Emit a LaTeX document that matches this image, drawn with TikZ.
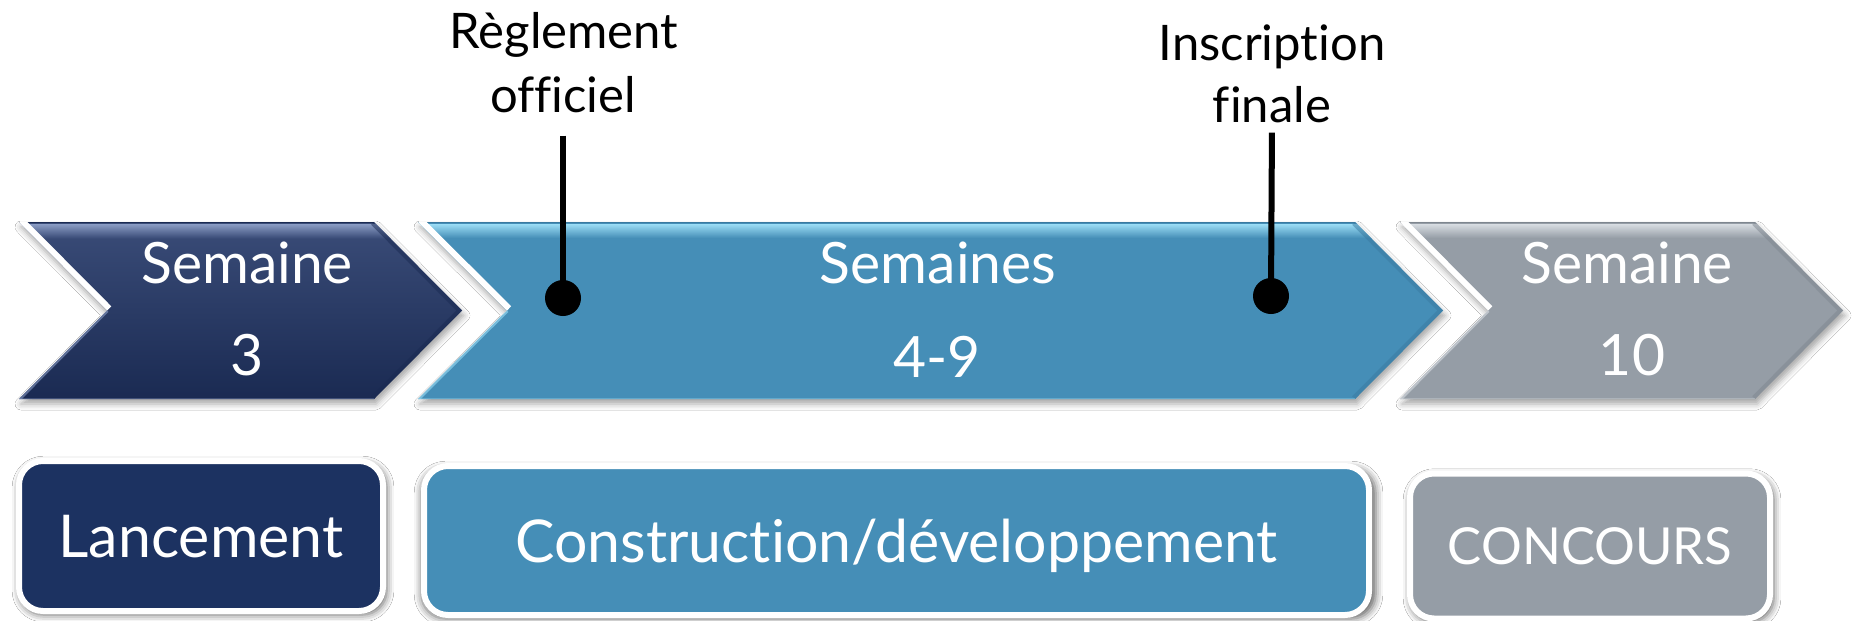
\documentclass[tikz,border=0pt]{standalone}
\usepackage{fontspec}
\setmainfont{Lato}[Ligatures=NoCommon]
\usetikzlibrary{shadows.blur}
\definecolor{navyT}{HTML}{3A4C78}
\definecolor{navyB}{HTML}{1A2A52}
\definecolor{navyHi}{HTML}{8A9CC4}
\definecolor{navy}{HTML}{1C3261}
\definecolor{steel}{HTML}{458EB7}
\definecolor{steelHi}{HTML}{9BDDF5}
\definecolor{steelDk}{HTML}{3A7AA0}
\definecolor{greyc}{HTML}{959DA6}
\definecolor{greyHi}{HTML}{D8DDE2}
\definecolor{greyDk}{HTML}{7E868F}
\newcommand{\mychevron}[8]{%
  % #1 x0, #2 xr, #3 xt, #4 notch, #5 top colour, #6 bottom colour, #7 highlight, #8 dark edge
  \path[chevshadow, top color=#5, bottom color=#6]
    (#1,222) -- (#2,222) -- (#3,310.5) -- (#2,399) -- (#1,399) -- (#4,310.5) -- cycle;
  \begin{scope}
    \clip (#1,222) -- (#2,222) -- (#3,310.5) -- (#2,399) -- (#1,399) -- (#4,310.5) -- cycle;
    \shade[top color=#7, bottom color=#5] (#1,224) rectangle (#3,238);
    \draw[#8, line width=2pt] (#1,222) -- (#2,222);
    \draw[white, line width=12pt] (#1,222) -- (#4,310.5);
    \draw[#7, line width=4pt, opacity=.6] (#4,310.5) -- (#1,399);
    \draw[#8, line width=8pt, opacity=.5] (#2,222) -- (#3,310.5) -- (#2,399);
    \draw[#7, line width=3pt, opacity=.35] (#1,399) -- (#2,399);
  \end{scope}}
\begin{document}
\begin{tikzpicture}[x=1pt,y=-1pt,
  chevshadow/.style={blur shadow={shadow xshift=2pt, shadow yshift=-5pt, shadow blur radius=6pt, shadow opacity=35}},
  chevtxt/.style={anchor=base, inner sep=0pt, text=white, font=\fontsize{57}{60}\selectfont},
  lbl/.style={anchor=base, inner sep=0pt, text=black, font=\fontsize{49}{60}\selectfont},
  stem/.style={draw=black, line width=6pt},
  dot/.style={circle, fill=black, minimum size=36pt, inner sep=0pt},
  phase/.style={draw=white, line width=6pt, rounded corners=24pt, text=white,
    inner sep=0pt, text height=43pt, text depth=0pt, font=\fontsize{59}{62}\selectfont,
    blur shadow={shadow xshift=2pt, shadow yshift=-3pt, shadow blur radius=7pt, shadow scale=1.01, shadow opacity=60}}]
\path[use as bounding box, fill=white] (0,0) rectangle (1858,621);

% chevrons
\mychevron{19}{374}{462}{107}{navyT}{navyB}{navyHi}{navyB}
\mychevron{418}{1355}{1443}{507}{steel}{steel}{steelHi}{steelDk}
\mychevron{1400}{1755}{1843}{1488}{greyc}{greyc}{greyHi}{greyDk}

% chevron texts
\node[chevtxt] (w3a) at (247,283) {Semaine};
\node[chevtxt] (w3b) at (247,375) {3};
\node[chevtxt] (w4a) at (938,283) {Semaines};
\node[chevtxt] (w4b) at (937,377) {4-9};
\node[chevtxt] (w10a) at (1627,283) {Semaine};
\node[chevtxt] (w10b) at (1632,375) {10};

% milestone labels
\node[lbl] (reg1) at (564,48) {Règlement};
\node[lbl] (reg2) at (563,112) {officiel};
\node[lbl] (ins1) at (1272,60) {Inscription};
\node[lbl] (ins2) at (1272,122) {finale};

% milestones
\node[dot] (d1) at (563,298) {};
\node[dot] (d2) at (1271,296) {};
\draw[stem, shorten <=23pt] (reg2.south) -- (d1.center);
\draw[stem, shorten <=10pt] (ins2.south) -- (d2.center);

% phase boxes
\node[phase, fill=navy, minimum width=364pt, minimum height=150pt] (lanc) at (201,536) {Lancement};
\node[phase, fill=steel, minimum width=945pt, minimum height=149pt] (cons) at (896.5,540.5) {Construction/développement};
\node[phase, fill=greyc, minimum width=360pt, minimum height=145pt, text height=37pt,
  font=\fontsize{51}{54}\selectfont] (conc) at (1590,546) {CONCOURS};
\end{tikzpicture}
\end{document}
